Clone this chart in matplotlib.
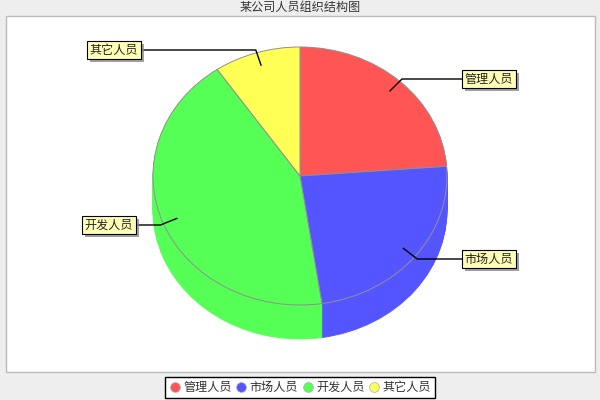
import numpy as np
import matplotlib
matplotlib.use("Agg")
import matplotlib.pyplot as plt
import matplotlib.patheffects as pe
from matplotlib.lines import Line2D
from matplotlib.patches import Rectangle

plt.rcParams['font.family'] = ['Noto Sans CJK SC', 'DejaVu Sans']

title = "某公司人员组织结构图"
labels = ["管理人员", "市场人员", "开发人员", "其它人员"]
values = [25, 25, 45, 10]
colors = ["#ff5555", "#5555ff", "#55ff55", "#ffff55"]

W, H = 600, 400
# pie top ellipse in pixels
left, right, top, bottom = 153, 447, 47, 305
depth = 34

# label box centres in pixels, y down
label_pos = [(489, 79), (489, 259), (109, 225), (114, 50)]

fig = plt.figure(figsize=(6, 4), dpi=100, facecolor="#eeeeee")

bg = fig.add_axes([0, 0, 1, 1], zorder=0)
bg.set_xlim(0, W)
bg.set_ylim(H, 0)
bg.axis("off")
bg.add_patch(Rectangle((5.5, 15.5), 589, 356, fc="white", ec="#bbbbbb", lw=1))

ax = fig.add_axes([left / W, 1 - bottom / H, (right - left) / W, (bottom - top) / H], zorder=1)
ry = (bottom - top) / 2
rx = (right - left) / 2

# side wall: stack of pies going up to the top face
for d in range(depth, 0, -1):
    ax.pie(values, colors=colors, startangle=90, counterclock=False,
           center=(0, -d / ry), radius=1, wedgeprops={"lw": 0.6, "clip_on": False})
    for w in ax.patches[-4:]:
        w.set_edgecolor(w.get_facecolor())
ax.pie(values, colors=colors, startangle=90, counterclock=False,
       wedgeprops={"lw": 0.7, "edgecolor": "#909090", "clip_on": False})
ax.set_aspect("auto")
ax.set_xlim(-1, 1)
ax.set_ylim(-1, 1)
ax.axis("off")

over = fig.add_axes([0, 0, 1, 1], zorder=2)
over.set_xlim(0, W)
over.set_ylim(H, 0)
over.axis("off")
over.patch.set_alpha(0)

# leaders start at the middle of each slice
vals = np.array(values, dtype=float)
mids = (np.cumsum(vals) - vals / 2) / vals.sum() * 2 * np.pi
cx, cy = (left + right) / 2, (top + bottom) / 2
for name, mid, (lx, ly) in zip(labels, mids, label_pos):
    x0, y0 = cx + 0.9 * rx * np.sin(mid), cy - 0.9 * ry * np.cos(mid)
    x1, y1 = cx + 1.02 * rx * np.sin(mid), cy - 1.02 * ry * np.cos(mid)
    over.plot([x0, x1, lx], [y0, ly, ly], color="black", lw=1)
    t = over.text(lx, ly, name, fontsize=8.7, ha="center", va="center", color="#222222",
                  bbox=dict(boxstyle="square,pad=0.22", fc="#ffffb8", ec="black", lw=0.8))
    t.get_bbox_patch().set_path_effects([pe.SimplePatchShadow(offset=(2, -2), shadow_rgbFace="#888888", alpha=0.8),
                                         pe.Normal()])

fig.text(0.5, 1 - 7 / H, title, fontsize=8.7, ha="center", va="center", color="#333333")

handles = [Line2D([], [], ls="", marker="o", ms=7, mfc=c, mec="#aaaaaa", mew=0.5) for c in colors]
leg = fig.legend(handles, labels, ncol=4, loc="center", bbox_to_anchor=(0.5, 1 - 387.5 / H),
                 fontsize=8.7, frameon=True, fancybox=False, edgecolor="black", facecolor="white",
                 handletextpad=0.2, columnspacing=0.3, handlelength=1.0, borderpad=0.3, labelcolor="#333333",
                 framealpha=1)
leg.get_frame().set_linewidth(1)

fig.savefig("out.png", dpi=100, facecolor=fig.get_facecolor())
